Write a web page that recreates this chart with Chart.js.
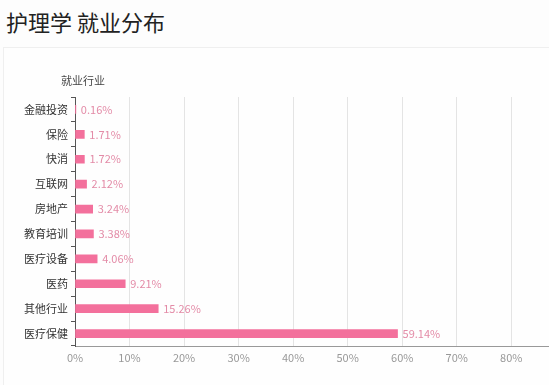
<!DOCTYPE html>
<html>
<head>
<meta charset="utf-8">
<script src="https://cdn.jsdelivr.net/npm/chart.js@4/dist/chart.umd.min.js"></script>
<style>
    body { margin: 0; background: #fdfdfd; overflow: hidden; width: 549px; height: 385px; position: relative; font-family: "Noto Sans CJK SC", sans-serif; }
    h1 { position: absolute; left: 6px; top: 6px; margin: 0; font-size: 22px; font-weight: normal; color: #222; line-height: 30px; }
    .card { position: absolute; left: 3px; top: 47px; width: 560px; height: 340px; border: 1px solid #efefef; background: #fefefe; }
    #barChart { position: absolute; left: 0; top: 60px; }
</style>
</head>
<body>
<h1>护理学 就业分布</h1>
<div class="card"></div>
<canvas id="barChart" width="582" height="311"></canvas>
<script>
    var industries = ['金融投资', '保险', '快消', '互联网', '房地产', '教育培训', '医疗设备', '医药', '其他行业', '医疗保健'];
    var shares = [0.16, 1.71, 1.72, 2.12, 3.24, 3.38, 4.06, 9.21, 15.26, 59.14];
    var xTicks = [0, 10, 20, 30, 40, 50, 60, 70, 80, 90];

    var cjk = '"Noto Sans CJK SC", sans-serif';

    // value labels to the right of each bar + axis title on top
    var labelPlugin = {
        id: 'labels',
        afterDatasetsDraw: function (chart) {
            var ctx = chart.ctx;
            var meta = chart.getDatasetMeta(0);
            ctx.save();
            ctx.font = '11px ' + cjk;
            ctx.fillStyle = '#e38ba7';
            ctx.textBaseline = 'middle';
            ctx.textAlign = 'left';
            meta.data.forEach(function (bar, i) {
                ctx.fillText(shares[i].toFixed(2) + '%', bar.x + 5, bar.y);
            });
            ctx.fillStyle = '#444';
            ctx.textAlign = 'center';
            ctx.fillText('就业行业', chart.chartArea.left + 8, chart.chartArea.top - 16);
            ctx.restore();
        }
    };

    var ctx = document.getElementById('barChart').getContext('2d');
    new Chart(ctx, {
        type: 'bar',
        data: {
            labels: industries,
            datasets: [{
                data: shares,
                backgroundColor: '#f3709c',
                barThickness: 8
            }]
        },
        options: {
            indexAxis: 'y',
            responsive: false,
            animation: false,
            layout: { padding: { top: 37, right: 0, bottom: 0, left: 0 } },
            plugins: { legend: { display: false }, tooltip: { enabled: false } },
            scales: {
                x: {
                    min: 0,
                    max: 90,
                    afterBuildTicks: function (scale) {
                        scale.ticks = xTicks.map(function (v) { return { value: v }; });
                    },
                    afterFit: function (scale) { scale.height = 25; },
                    grid: { color: '#e4e4e4', drawTicks: false },
                    border: { color: '#999' },
                    ticks: {
                        padding: 5,
                        color: '#999',
                        font: { size: 11, family: cjk },
                        callback: function (v) { return v + '%'; }
                    }
                },
                y: {
                    afterFit: function (scale) { scale.width = 75; },
                    grid: { drawOnChartArea: false, tickLength: 4, color: '#555', offset: true },
                    border: { color: '#555' },
                    ticks: {
                        padding: 3,
                        color: '#333',
                        font: { size: 11, family: cjk }
                    }
                }
            }
        },
        plugins: [labelPlugin]
    });
</script>
</body>
</html>
